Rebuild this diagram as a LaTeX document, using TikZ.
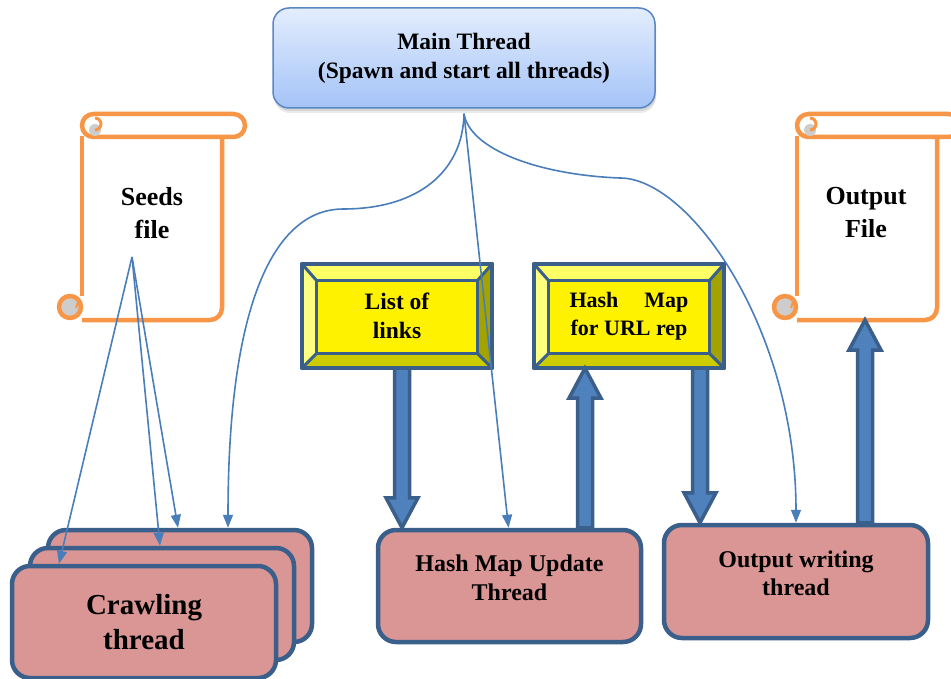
\documentclass[tikz,border=0pt]{standalone}
\usepackage{fontspec}
\setmainfont{Liberation Serif}
\usetikzlibrary{arrows.meta,calc,backgrounds}

\definecolor{scrollorange}{HTML}{F79646}
\definecolor{curlgrey}{HTML}{CDCDCD}
\definecolor{threadpink}{HTML}{D99694}
\definecolor{edgeblue}{HTML}{3A5F8B}
\definecolor{arrowblue}{HTML}{4F81BD}
\definecolor{linkblue}{HTML}{4A7EBB}
\definecolor{mainborder}{HTML}{5A87C6}
\definecolor{maintop}{HTML}{E3EDFD}
\definecolor{mainbottom}{HTML}{A4C3F7}
\definecolor{bevtop}{HTML}{FFFF66}
\definecolor{bevleft}{HTML}{FFFF80}
\definecolor{bevright}{HTML}{A3A300}
\definecolor{bevbottom}{HTML}{CCCC00}

\tikzset{
  mainbox/.style={draw=mainborder, line width=1.5pt, rounded corners=16pt,
    top color=maintop, bottom color=mainbottom,
    minimum width=382pt, minimum height=100pt, inner sep=0pt, align=center,
    font=\fontsize{23.5pt}{29pt}\selectfont\bfseries},
  softshadow/.style={fill=#1, rounded corners=16pt},
  threadbox/.style={draw=edgeblue, line width=4.5pt, fill=threadpink,
    rounded corners=18pt, minimum width=264pt, minimum height=112pt, inner sep=0pt},
  boardbox/.style={minimum width=190pt, minimum height=104pt, inner sep=0pt, align=center},
  caption/.style={align=center, inner sep=0pt},
  scroll/.style={draw=scrollorange, line width=4.5pt, line join=round},
  link/.style={draw=linkblue, line width=1.6pt, -{Triangle[width=10pt,length=13pt]}},
  blockarrow/.style={draw=edgeblue, fill=arrowblue, line width=3.5pt, line join=miter,
    to path={let \p1=(\tikztostart), \p2=(\tikztotarget),
      \p3=($(\tikztotarget)!30pt!(\tikztostart)$) in
      (\x1-7.5pt,\y1) -- (\x1-7.5pt,\y3) -- (\x1-16pt,\y3) -- (\x2,\y2)
      -- (\x1+16pt,\y3) -- (\x1+7.5pt,\y3) -- (\x1+7.5pt,\y1) -- cycle}},
}

% paper scroll: white sheet, rolled top edge and curled bottom-left corner
\newcommand\papersheet{%
  \fill[white] (82,130) rectangle (222,320);
  \draw[scroll] (82,136) -- (82,296);
  \draw[scroll, rounded corners=12pt] (82,320) -- (222,320) -- (222,136);
  \filldraw[scroll, fill=curlgrey] (70,307) circle (11pt);
  \draw[scrollorange, line width=2pt] (78,302) -- (76,308);
  \draw[scroll, fill=white, rounded corners=11.5pt] (82,114) rectangle (245,137);
  \fill[curlgrey] (95,130) circle (6pt);
  \draw[scrollorange, line width=3pt] (95,118) arc (90:-90:6pt);
}

% bevelled sign board behind a node
\newcommand\bevelframe[1]{%
  \begin{scope}[on background layer]
    \coordinate (#1-a) at (#1.north west);
    \coordinate (#1-b) at (#1.north east);
    \coordinate (#1-c) at (#1.south east);
    \coordinate (#1-d) at (#1.south west);
    \coordinate (#1-ia) at ($(#1-a)+(15,17)$);
    \coordinate (#1-ib) at ($(#1-b)+(-15,17)$);
    \coordinate (#1-ic) at ($(#1-c)+(-15,-15)$);
    \coordinate (#1-id) at ($(#1-d)+(15,-15)$);
    \fill[bevtop] (#1-a) -- (#1-b) -- (#1-ib) -- (#1-ia) -- cycle;
    \fill[bevleft] (#1-a) -- (#1-ia) -- (#1-id) -- (#1-d) -- cycle;
    \fill[bevright] (#1-b) -- (#1-c) -- (#1-ic) -- (#1-ib) -- cycle;
    \fill[bevbottom] (#1-d) -- (#1-c) -- (#1-ic) -- (#1-id) -- cycle;
    \filldraw[fill=yellow, draw=edgeblue, line width=3pt] (#1-ia) rectangle (#1-ic);
    \draw[edgeblue, line width=3pt] (#1-a) -- (#1-ia) (#1-b) -- (#1-ib)
      (#1-c) -- (#1-ic) (#1-d) -- (#1-id);
    \draw[edgeblue, line width=4.5pt, line join=round] (#1-a) rectangle (#1-c);
  \end{scope}%
}

\begin{document}
\begin{tikzpicture}[x=1pt, y=-1pt]
\useasboundingbox (0,0) rectangle (951,679);
\begin{scope}[on background layer]
  \fill[white] (0,0) rectangle (951,679);
\end{scope}

% files
\papersheet
\begin{scope}[shift={(715,0)}]
  \papersheet
\end{scope}
\node[caption, font=\fontsize{26pt}{33pt}\selectfont\bfseries] (seeds) at (152,213) {Seeds\\file};
\node[caption, font=\fontsize{26pt}{33pt}\selectfont\bfseries] (outfile) at (866,213) {Output\\File};
\coordinate (seedsout) at (132,257);
\coordinate (outfilein) at (865,320);

% main thread, with a soft shadow under its lower edge
\fill[softshadow=black!8] (274,13) rectangle (656,113);
\fill[softshadow=black!16] (274,11) rectangle (656,111);
\node[mainbox] (main) at (464,58)
  {\raisebox{-3pt}{Main Thread}\\\raisebox{-3pt}{(Spawn and start all threads)}};
\coordinate (mainout) at ([yshift=-5pt]main.south);

% shared data boards
\node[boardbox, font=\fontsize{23.5pt}{29pt}\selectfont\bfseries] (lol) at (397,316)
  {\raisebox{-4pt}{List of}\\\raisebox{-4pt}{links}};
\bevelframe{lol}
\node[boardbox, font=\fontsize{22pt}{28pt}\selectfont\bfseries] (hmb) at (629,316)
  {\hbox to 119pt{Hash\hfill Map}\\for URL rep};
\bevelframe{hmb}

% worker threads
\node[threadbox] (cr3) at (180,586) {};
\node[threadbox] (cr2) at (162,604) {};
\node[threadbox] (cr1) at (144,622) {};
\node[caption, font=\fontsize{29pt}{35pt}\selectfont\bfseries] (crtext) at (cr1.center) {Crawling\\thread};
\node[threadbox, minimum width=263pt] (hmu) at (509.5,586) {};
\node[caption, font=\fontsize{24pt}{29pt}\selectfont\bfseries] (hmutext) at ([yshift=8.5pt]hmu.center) {Hash Map Update\\Thread};
\node[threadbox, minimum height=113pt] (ow) at (796,581.5) {};
\node[caption, font=\fontsize{24pt}{28pt}\selectfont\bfseries] (owtext) at ([yshift=8.5pt]ow.center) {Output writing\\thread};

% data flow
\coordinate (ba1s) at ([xshift=5pt]lol.south);
\coordinate (ba1e) at (ba1s |- hmu.north);
\draw[blockarrow] (ba1s) to (ba1e);
\coordinate (ba2e) at ([xshift=-44pt]hmb.south);
\coordinate (ba2s) at (ba2e |- hmu.north);
\draw[blockarrow] (ba2s) to (ba2e);
\coordinate (ba3s) at ([xshift=71pt]hmb.south);
\coordinate (ba3e) at (ba3s |- ow.north);
\draw[blockarrow] (ba3s) to (ba3e);
\coordinate (ba4s) at (outfilein |- ow.north);
\draw[blockarrow] (ba4s) to (outfilein);

% seeds feed the crawlers
\draw[link] (seedsout) -- ([xshift=-85pt]cr1.north);
\draw[link] (seedsout) -- ([xshift=-2pt]cr2.north);
\draw[link] (seedsout) -- ([xshift=-2pt]cr3.north);

% main thread spawns the workers
\draw[link] (mainout) .. controls (463,170) and (420,209) .. (343,209)
  .. controls (280,209) and (228,290) .. ([xshift=48pt]cr3.north);
\draw[link] (mainout) -- ([xshift=-1pt]hmu.north);
\draw[link] (mainout) .. controls (470,150) and (540,175) .. (620,178)
  .. controls (690,178) and (796,330) .. (ow.north);
\end{tikzpicture}
\end{document}
